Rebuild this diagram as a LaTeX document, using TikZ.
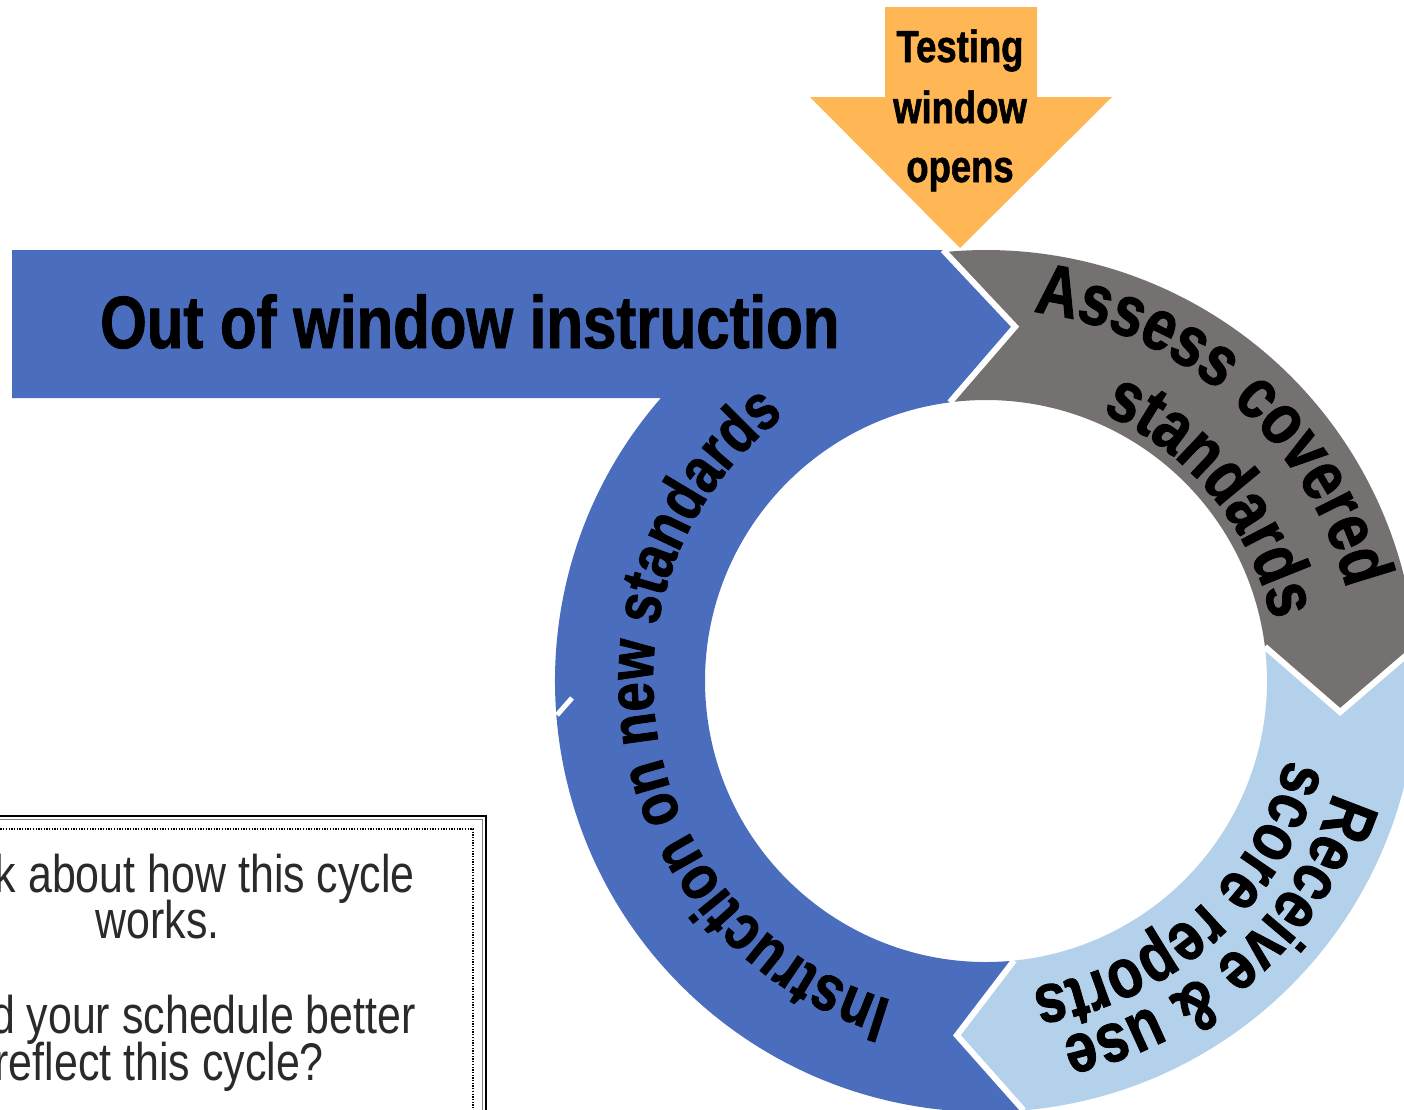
\documentclass[tikz,border=0pt]{standalone}
\usepackage{fontspec}
\usetikzlibrary{calc,decorations.text}
\newfontfamily\condfont{Liberation Sans}[FakeStretch=0.81, BoldFeatures={FakeBold=1.3}]
\definecolor{cblue}{HTML}{4A6DBE}
\definecolor{cgrey}{HTML}{767171}
\definecolor{clight}{HTML}{B4D1EB}
\definecolor{corange}{HTML}{FFB654}
\definecolor{ctext}{HTML}{2A2A2A}
\tikzset{
  sepline/.style={white, line width=6pt, line join=miter},
  boldlbl/.style={inner sep=0pt, font=\condfont\bfseries\fontsize{#1}{#1}\selectfont},
  boxtxt/.style={inner sep=0pt, text=ctext, font=\condfont\fontsize{53}{47}\selectfont},
  arctext/.style n args={2}{decorate, decoration={text along path, text align=center,
     text={|\condfont\bfseries\fontsize{#1}{#1}\selectfont|#2}}}
}
\begin{document}
\begin{tikzpicture}[x=1pt,y=1pt]
\useasboundingbox (0,0) rectangle (1404,-1109);
\coordinate (c) at (986,-681);
% key points of the ring arrows
\coordinate (bhtop) at (943,-250);
\coordinate (btip) at ($(c)+(85.3:355.5pt)$);
\coordinate (bhin) at ($(c)+(97.4:281pt)$);
\coordinate (gout) at ($(c)+(4.5:431pt)$);
\coordinate (gtip) at ($(c)+(-5:355.5pt)$);
\coordinate (gin) at ($(c)+(7:281pt)$);
\coordinate (lout) at ($(c)+(-85:431pt)$);
\coordinate (ltip) at ($(c)+(-94.7:355.5pt)$);
\coordinate (lin) at ($(c)+(-84.3:281pt)$);
% blue banner + instruction arc
\fill[cblue] (btip) -- (bhtop) -- (12,-250) -- (12,-398) -- (660.9,-398)
  arc[start angle=138.96, end angle=275, radius=431pt] -- (ltip) -- (lin)
  arc[start angle=275.7, end angle=97.4, radius=281pt] -- cycle;
% grey assess arc
\fill[cgrey] (bhtop) -- ($(c)+(95.7:431pt)$)
  arc[start angle=95.7, end angle=4.5, radius=431pt] -- (gtip) -- (gin)
  arc[start angle=7, end angle=97.4, radius=281pt] -- (btip) -- cycle;
% light blue receive arc
\fill[clight] (gout) arc[start angle=4.5, end angle=-85, radius=431pt] -- (ltip) -- (lin)
  arc[start angle=-84.3, end angle=7, radius=281pt] -- (gtip) -- cycle;
% white separators
\draw[sepline] (bhtop) -- (btip) -- (bhin);
\draw[sepline] (gout) -- (gtip) -- (gin);
\draw[sepline] (lout) -- (ltip) -- (lin);
\coordinate (s1) at (557,-715);
\coordinate (s2) at (572,-698);
\draw[white, line width=5pt] (s1) -- (s2);
% orange arrow
\fill[corange] (885,-7) -- (1037,-7) -- (1037,-97) -- (1112,-97) -- (960,-248) -- (810,-97) -- (885,-97) -- cycle;
\node[boldlbl=45, anchor=base] (tw1) at (960,-62) {Testing};
\node[boldlbl=45, anchor=base] (tw2) at (960,-123) {window};
\node[boldlbl=45, anchor=base] (tw3) at (960,-182) {opens};
% banner text
\node[boldlbl=74, anchor=base west] (oow) at (100,-348) {Out of window instruction};
% curved texts
\path[arctext={72}{Assess covered}] ($(c)+(98.5:372pt)$) arc[start angle=98.5, end angle=-1.5, radius=372pt];
\path[arctext={72}{standards}] ($(c)+(89.3:292pt)$) arc[start angle=89.3, end angle=-10.7, radius=292pt];
\path[arctext={65}{Instruction on new standards}] ($(c)+(270.4:333pt)$) arc[start angle=270.4, end angle=110.4, radius=333pt];
\path[arctext={70}{Receive {\&} use}] ($(c)+(2.1:365pt)$) arc[start angle=2.1, end angle=-97.9, radius=365pt];
\path[arctext={70}{score reports}] ($(c)+(2:310pt)$) arc[start angle=2, end angle=-98, radius=310pt];
% question box
\draw[black, line width=2pt] (-5,-816) -- (486,-816) -- (486,-1115);
\draw[gray, line width=0.8pt] (-5,-819.5) -- (482.5,-819.5) -- (482.5,-1115);
\draw[black, line width=1.3pt, dash pattern=on 1.3pt off 1.4pt] (-5,-829) -- (473,-829) -- (473,-1115);
\node[boxtxt, anchor=base east] (q1) at (415,-892) {k about how this cycle};
\node[boxtxt, anchor=base] (q2) at (157.5,-938) {works.};
\node[boxtxt, anchor=base east] (q3) at (416,-1033) {d your schedule better};
\node[boxtxt, anchor=base east] (q4) at (324,-1080) {reflect this cycle?};
\end{tikzpicture}
\end{document}
